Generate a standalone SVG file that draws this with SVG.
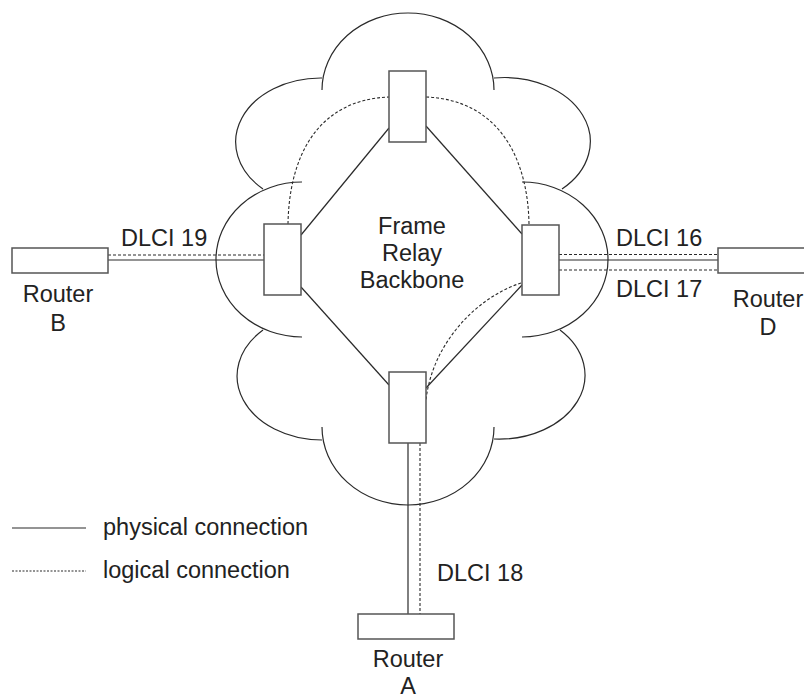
<svg xmlns="http://www.w3.org/2000/svg" width="804" height="700" viewBox="0 0 804 700">
<style>
.cloud{fill:none;stroke:#2a2a2a;stroke-width:1.2}
.phys{fill:none;stroke:#2a2a2a;stroke-width:1.2}
.log{fill:none;stroke:#2a2a2a;stroke-width:1.1;stroke-dasharray:3,2}
.box{fill:#fff;stroke:#555;stroke-width:1.5}
text{font-family:"Liberation Sans",Arial,sans-serif;font-size:23.5px;fill:#222}
.c{text-anchor:middle}
</style>
<rect width="804" height="700" fill="#fff"/>
<g id="cloud">
<path class="cloud" d="M322,90 A86,77 0 0 1 494,90"/>
<path class="cloud" d="M322,78 A85,64 0 0 0 263,189"/>
<path class="cloud" d="M494,78 A86,64 0 0 1 562,189"/>
<path class="cloud" d="M302,182 A86,77.5 0 0 0 302,337"/>
<path class="cloud" d="M522,182 A86,77.5 0 0 1 522,337"/>
<path class="cloud" d="M263,330 A85,64 0 0 0 322,440"/>
<path class="cloud" d="M560,330 A86,64 0 0 1 494,439"/>
<path class="cloud" d="M322,427 A86,78 0 0 0 494,427"/>
</g>
<g id="connectors">
<line class="phys" x1="389" y1="128" x2="301" y2="235"/>
<line class="phys" x1="426" y1="126" x2="522" y2="234"/>
<line class="phys" x1="301" y1="287" x2="389" y2="385"/>
<line class="phys" x1="522" y1="285" x2="426" y2="388"/>
<path class="log" d="M288,224 C289,160 315,100 389,97"/>
<path class="log" d="M426,97 C500,100 528,160 529,224"/>
<path class="log" d="M521,283 C475,298 432,345 426,400"/>
<line class="phys" x1="108" y1="260" x2="264" y2="260"/>
<line class="log" x1="108" y1="255" x2="264" y2="255"/>
<line class="phys" x1="559" y1="260" x2="718" y2="260"/>
<line class="log" x1="559" y1="254.5" x2="718" y2="254.5"/>
<line class="log" x1="559" y1="270" x2="718" y2="270"/>
<line class="phys" x1="408" y1="443" x2="408" y2="614"/>
<line class="log" x1="420" y1="443" x2="420" y2="614"/>
</g>
<g id="switch-top"><rect class="box" x="389" y="71" width="37" height="71"/></g>
<g id="switch-left"><rect class="box" x="264" y="224" width="37" height="71"/></g>
<g id="switch-right"><rect class="box" x="522" y="225" width="37" height="70"/></g>
<g id="switch-bottom"><rect class="box" x="389" y="372" width="37" height="71"/></g>
<g id="router-b"><rect class="box" x="12" y="248" width="96" height="25"/>
<text class="c" x="58" y="302">Router</text><text class="c" x="58" y="331">B</text></g>
<g id="router-d"><rect class="box" x="718" y="248" width="96" height="25"/>
<text class="c" x="768" y="307">Router</text><text class="c" x="768" y="335">D</text></g>
<g id="router-a"><rect class="box" x="358" y="614" width="96" height="25"/>
<text class="c" x="408" y="667">Router</text><text class="c" x="408" y="694">A</text></g>
<g id="labels">
<text class="c" x="412" y="234">Frame</text>
<text class="c" x="412" y="261">Relay</text>
<text class="c" x="412" y="288">Backbone</text>
<text x="121" y="246">DLCI 19</text>
<text x="616" y="246">DLCI 16</text>
<text x="616" y="297">DLCI 17</text>
<text x="437" y="581">DLCI 18</text>
</g>
<g id="legend">
<line class="phys" x1="12" y1="528" x2="86" y2="528"/>
<line class="log" x1="12" y1="571" x2="86" y2="571" style="stroke-dasharray:2,1.5"/>
<text x="103" y="535">physical connection</text>
<text x="103" y="578">logical connection</text>
</g>
</svg>
